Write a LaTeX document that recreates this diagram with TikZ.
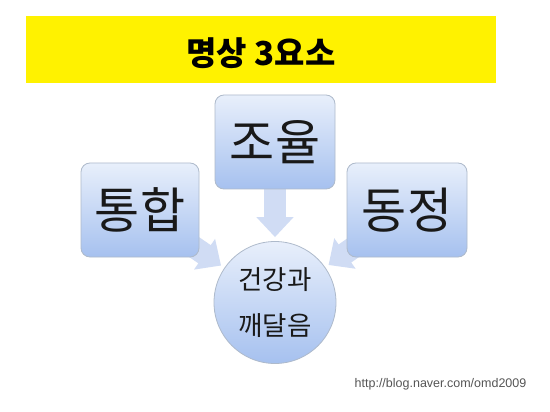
\documentclass[tikz,border=0pt]{standalone}
\usepackage{fontspec}
\setmainfont{Liberation Sans}
\newfontfamily\kr{Noto Sans CJK KR}
\usetikzlibrary{arrows.meta}
\definecolor{boxtop}{HTML}{E8EFFB}
\definecolor{boxbot}{HTML}{A6C1EF}
\definecolor{boxline}{HTML}{AEBACB}
\definecolor{arrowc}{HTML}{D0DCF4}
\definecolor{urlc}{HTML}{555555}
\begin{document}
\begin{tikzpicture}[x=1pt,y=-1pt,
  box/.style={rounded corners=9pt, draw=boxline, line width=0.8pt,
    top color=boxtop, bottom color=boxbot, minimum width=119pt,
    minimum height=94pt, inner sep=0pt, text=black!90,
    font=\kr\fontsize{49}{52}\selectfont},
  flow/.style={draw=arrowc, line width=22pt,
    -{Triangle[width=36pt,length=20pt]}, shorten >=4pt}]
\fill[white] (0,0) rectangle (550,412);
\useasboundingbox (0,0) rectangle (550,412);
% title band
\node[fill=yellow, minimum width=470pt, minimum height=67pt, inner sep=0pt] (band) at (261,49.5) {};
\node[font=\kr\bfseries\fontsize{33}{36}\selectfont, inner sep=0pt] (title) at (261,53.5) {명상 3요소};
% positions
\coordinate (tpos) at (275,142);
\coordinate (lpos) at (140,210);
\coordinate (rpos) at (407,210);
% centre circle
\node[circle, draw=boxline, line width=0.8pt, top color=boxtop, bottom color=boxbot,
  minimum size=122pt, inner sep=0pt, align=center, text=black!90,
  font=\kr\fontsize{26.5}{46}\selectfont] (c) at (275,302.5) {건강과\\깨달음};
% arrows behind boxes
\draw[flow] (tpos) -- (c);
\draw[flow] (lpos) -- (c);
\draw[flow] (rpos) -- (c);
% boxes
\node[box, minimum width=120pt] (t) at (tpos) {조율};
\node[box, minimum width=118pt] (l) at (lpos) {통합};
\node[box, minimum width=120pt] (r) at (rpos) {동정};
\node[text=urlc, font=\fontsize{12.5}{14}\selectfont, inner sep=0pt] (url) at (440.5,384) {http://blog.naver.com/omd2009};
\end{tikzpicture}
\end{document}
